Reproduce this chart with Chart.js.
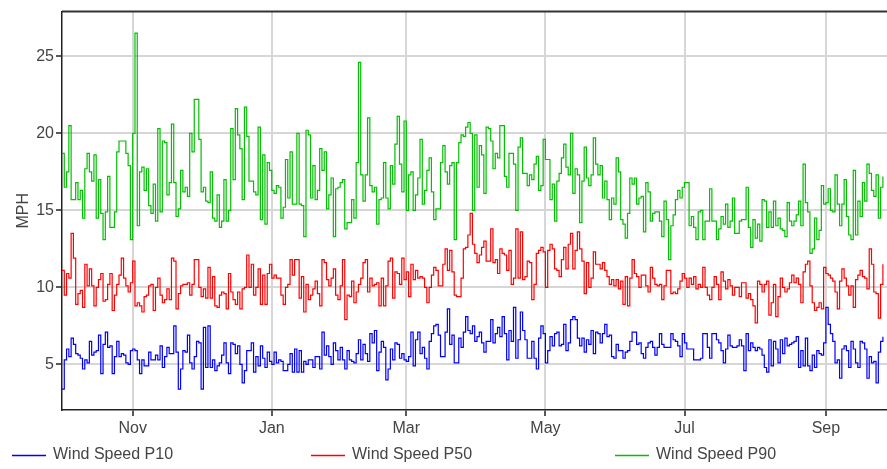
<!DOCTYPE html>
<html>
<head>
<meta charset="utf-8">
<script src="https://cdn.jsdelivr.net/npm/chart.js@4.4.1/dist/chart.umd.min.js"></script>
<style>
  html, body { margin: 0; padding: 0; background: #fff; }
</style>
</head>
<body>
<canvas id="grafico-vento" width="887" height="469"></canvas>
<script>
// one value per day, day 0 = 1 Oct
const monthTicks = [31, 92, 151, 212, 273, 335];
const monthLabels = ['Nov', 'Jan', 'Mar', 'May', 'Jul', 'Sep'];
const yTicks = [5, 10, 15, 20, 25];
const seriesNames = ['Wind Speed P10', 'Wind Speed P50', 'Wind Speed P90'];
const seriesColors = ['#0000ff', '#ff0000', '#00c000'];

const p10 = [
  3.4, 5.3, 6.0, 5.5, 6.7, 6.3, 5.7, 5.6, 5.4, 4.7,
  5.3, 5.1, 6.5, 5.6, 5.8, 5.9, 6.9, 4.4, 6.3, 7.1,
  6.1, 6.2, 4.4, 5.5, 6.5, 5.5, 5.7, 5.6, 5.1, 5.0,
  5.9, 6.0, 5.9, 5.3, 4.4, 5.3, 4.9, 4.9, 5.8, 5.3,
  5.3, 5.6, 5.3, 6.2, 4.8, 5.5, 6.1, 5.7, 5.7, 7.5,
  5.8, 3.4, 4.7, 5.9, 5.8, 6.9, 5.1, 4.7, 5.5, 6.5,
  6.4, 3.4, 7.4, 4.8, 7.5, 4.8, 5.3, 4.6, 4.9, 5.1,
  5.6, 6.4, 5.1, 4.4, 6.4, 6.3, 5.7, 6.2, 5.0, 3.8,
  4.6, 5.9, 5.9, 6.4, 4.5, 5.5, 4.9, 6.2, 5.4, 4.8,
  5.8, 5.2, 5.0, 5.8, 5.1, 5.3, 5.2, 4.6, 4.6, 5.0,
  5.7, 4.5, 6.0, 4.5, 5.9, 4.5, 5.2, 5.0, 5.3, 5.3,
  4.8, 5.5, 5.5, 4.7, 7.1, 5.6, 6.2, 5.5, 5.0, 6.4,
  5.9, 5.3, 6.1, 5.3, 4.7, 5.9, 5.3, 5.2, 5.1, 5.7,
  6.6, 5.3, 6.3, 5.7, 5.2, 7.0, 6.4, 7.2, 4.6, 5.8,
  6.5, 6.1, 4.0, 4.7, 6.0, 5.3, 6.4, 6.3, 5.4, 5.7,
  5.3, 5.2, 5.5, 7.1, 4.9, 6.6, 7.1, 5.7, 6.1, 5.4,
  4.7, 6.5, 7.0, 7.5, 7.6, 6.9, 5.5, 5.5, 7.1, 8.6,
  6.3, 6.9, 5.1, 5.1, 6.7, 6.1, 7.1, 8.1, 7.2, 7.0,
  7.5, 6.5, 6.8, 7.1, 6.4, 5.8, 6.5, 6.5, 7.9, 6.4,
  7.0, 7.4, 6.8, 8.1, 7.0, 5.3, 7.2, 6.5, 8.7, 5.4,
  6.6, 8.4, 7.2, 6.6, 5.4, 5.4, 6.5, 5.4, 4.7, 6.7,
  7.5, 7.0, 5.1, 5.9, 6.8, 6.2, 7.0, 7.1, 6.2, 6.3,
  7.6, 5.9, 6.4, 7.9, 8.1, 7.9, 6.7, 6.2, 6.7, 5.8,
  6.6, 6.3, 7.2, 5.7, 7.1, 7.0, 6.4, 7.0, 7.6, 6.8,
  6.9, 5.5, 5.4, 6.3, 5.9, 5.9, 5.4, 5.8, 5.9, 6.5,
  7.1, 7.1, 6.3, 6.4, 5.7, 5.4, 6.1, 6.4, 6.5, 6.1,
  5.6, 6.1, 7.0, 6.3, 6.1, 6.1, 6.1, 7.0, 6.6, 6.5,
  6.2, 5.5, 7.0, 6.4, 6.0, 6.0, 6.0, 5.3, 5.3, 5.3,
  5.4, 7.0, 7.0, 6.1, 5.4, 7.0, 7.0, 6.6, 6.4, 5.9,
  5.1, 6.0, 6.9, 6.2, 6.1, 6.1, 6.2, 6.6, 6.2, 4.6,
  7.0, 5.9, 6.4, 6.1, 5.9, 6.1, 6.0, 5.6, 4.8, 4.5,
  6.6, 4.9, 6.5, 6.0, 5.1, 6.6, 5.7, 6.7, 6.2, 6.3,
  6.4, 6.5, 6.8, 4.8, 5.9, 4.9, 6.7, 4.9, 4.6, 5.6,
  4.8, 5.9, 5.7, 5.6, 6.4, 8.7, 7.6, 7.0, 6.5, 5.1,
  5.3, 4.1, 6.0, 6.2, 5.9, 4.8, 6.5, 6.0, 5.1, 4.8,
  6.5, 6.4, 6.0, 4.1, 5.5, 5.1, 5.2, 3.8, 5.8, 6.5,
  6.8
];

const p50 = [
  11.1, 9.5, 10.9, 10.6, 13.5, 11.9, 8.9, 9.6, 9.8, 8.7,
  11.5, 10.1, 11.2, 10.1, 8.8, 10.0, 10.5, 10.9, 9.1, 9.2,
  10.2, 10.9, 8.5, 9.5, 10.2, 10.8, 11.9, 10.6, 10.1, 9.7,
  10.3, 11.7, 8.8, 9.0, 8.8, 8.4, 9.4, 9.5, 10.1, 10.2,
  8.5, 10.0, 10.6, 9.5, 9.0, 9.2, 9.9, 9.2, 11.9, 11.7,
  8.6, 9.6, 10.1, 10.2, 10.2, 10.3, 9.5, 10.2, 11.8, 11.8,
  10.0, 9.4, 9.9, 9.3, 11.3, 9.3, 10.7, 8.8, 8.7, 9.5,
  9.7, 9.6, 8.6, 10.9, 9.7, 9.2, 8.9, 9.7, 8.6, 9.9,
  10.0, 12.1, 10.0, 11.5, 9.5, 10.0, 11.2, 8.9, 10.8, 8.9,
  10.9, 11.5, 10.6, 10.8, 10.6, 10.6, 9.5, 8.9, 10.0, 10.2,
  11.8, 10.8, 11.8, 11.8, 9.3, 10.7, 8.4, 10.2, 9.2, 9.5,
  9.9, 10.4, 9.6, 8.8, 11.8, 11.6, 10.5, 10.1, 10.6, 11.2,
  9.5, 9.2, 10.1, 11.8, 7.9, 9.5, 9.4, 10.4, 9.0, 9.7,
  10.2, 10.6, 11.6, 11.8, 9.7, 10.6, 10.1, 10.2, 10.3, 8.8,
  10.6, 8.8, 10.1, 11.7, 11.9, 9.3, 11.0, 10.9, 10.2, 11.9,
  10.5, 11.0, 9.4, 11.5, 10.5, 11.1, 10.6, 10.7, 10.6, 10.0,
  9.0, 10.0, 10.8, 11.3, 11.1, 10.1, 10.1, 11.5, 12.5, 11.1,
  12.4, 11.0, 9.5, 9.4, 9.4, 10.6, 12.5, 12.6, 13.4, 14.8,
  12.8, 12.2, 11.6, 12.1, 12.6, 13.0, 11.7, 11.7, 13.8, 11.6,
  11.8, 10.9, 12.5, 12.2, 12.1, 11.1, 12.4, 10.2, 10.6, 13.8,
  10.6, 13.6, 10.5, 10.7, 11.7, 11.6, 9.2, 10.2, 12.2, 12.4,
  12.6, 12.3, 10.0, 12.4, 12.8, 12.5, 11.2, 11.1, 10.7, 11.8,
  12.6, 11.2, 12.8, 13.5, 11.2, 12.4, 13.6, 12.5, 11.7, 9.6,
  11.6, 10.0, 10.6, 12.3, 11.5, 11.5, 11.2, 11.6, 11.1, 10.7,
  10.2, 10.5, 10.1, 10.5, 9.9, 10.4, 8.9, 10.7, 8.8, 10.6,
  11.8, 10.9, 10.7, 10.0, 10.8, 10.8, 10.1, 9.7, 11.3, 10.6,
  10.2, 10.1, 10.2, 9.2, 10.1, 11.1, 11.1, 9.6, 9.7, 9.6,
  9.9, 10.4, 10.9, 10.6, 10.0, 10.6, 10.2, 10.7, 9.9, 10.2,
  10.0, 11.3, 10.0, 9.5, 9.2, 10.0, 10.7, 10.2, 9.2, 11.0,
  10.4, 9.9, 10.5, 10.1, 9.5, 10.0, 10.0, 9.4, 10.3, 10.3,
  9.3, 9.6, 9.2, 8.8, 7.7, 10.4, 10.2, 9.7, 10.2, 10.4,
  8.2, 9.0, 10.2, 8.1, 9.4, 10.6, 10.0, 9.7, 9.9, 10.3,
  10.8, 10.3, 10.6, 10.2, 9.0, 11.0, 11.5, 11.7, 10.1, 9.0,
  8.5, 8.7, 9.0, 8.6, 11.3, 10.9, 10.8, 10.6, 10.4, 9.7,
  8.6, 10.4, 11.2, 10.6, 10.1, 9.5, 10.1, 8.7, 10.5, 10.8,
  11.1, 10.7, 10.6, 9.9, 12.5, 11.5, 9.7, 9.6, 8.0, 10.2,
  11.5
];

const p90 = [
  18.7, 16.5, 17.5, 20.5, 15.7, 15.7, 16.8, 15.7, 16.3, 14.5,
  17.7, 18.7, 17.5, 16.9, 18.6, 14.5, 17.0, 14.8, 13.1, 14.9,
  17.2, 13.9, 13.9, 14.9, 18.8, 19.5, 19.5, 19.5, 18.7, 17.9,
  13.1, 20.0, 26.5, 14.0, 17.5, 17.8, 16.3, 17.7, 15.3, 14.8,
  16.7, 14.3, 20.3, 14.9, 19.5, 19.4, 16.0, 16.8, 20.6, 16.8,
  14.6, 15.1, 17.6, 16.2, 16.5, 15.9, 20.0, 18.8, 22.2, 22.2,
  19.6, 16.2, 16.5, 15.6, 15.5, 17.5, 14.5, 14.3, 16.0, 13.9,
  14.3, 17.0, 14.3, 15.0, 20.3, 17.0, 21.6, 19.9, 19.0, 15.7,
  21.7, 19.8, 16.9, 16.9, 16.2, 16.0, 20.4, 14.4, 18.6, 14.1,
  18.1, 17.6, 16.3, 16.1, 16.6, 16.5, 14.5, 15.2, 18.3, 15.8,
  18.8, 15.4, 15.4, 20.0, 15.4, 15.3, 13.3, 20.2, 19.9, 15.8,
  17.9, 15.7, 16.3, 19.0, 17.6, 18.8, 15.1, 16.0, 17.1,
  13.3, 16.4, 16.5, 16.8, 17.0, 13.8, 14.2, 14.2, 15.7, 14.5,
  18.1, 24.6, 17.3, 15.6, 17.3, 21.0, 16.6, 16.2, 16.5, 14.1,
  15.7, 15.8, 18.1, 15.8, 15.1, 17.9, 16.7, 19.3, 21.1, 18.0,
  16.2, 20.8, 15.0, 17.3, 17.5, 15.0, 16.0, 17.1, 19.6, 15.4,
  16.3, 17.6, 18.4, 16.2, 14.4, 15.1, 15.1, 18.1, 19.2, 17.5,
  16.7, 17.9, 18.1, 13.1, 18.1, 19.4, 19.9, 19.8, 20.4, 20.7,
  20.0, 15.0, 19.9, 16.5, 19.2, 18.6, 16.1, 20.4, 20.3, 19.5,
  17.7, 18.7, 18.4, 20.5, 20.5, 17.2, 16.5, 18.7, 18.7, 18.0,
  15.0, 19.1, 19.7, 17.4, 17.4, 16.6, 17.3, 17.0, 18.0, 18.5,
  16.3, 16.6, 19.6, 18.3, 18.3, 15.7, 16.7, 14.3, 16.9, 17.4,
  18.4, 19.3, 17.8, 17.3, 20.0, 16.1, 17.7, 17.3, 14.2, 16.9,
  19.1, 17.1, 16.6, 17.3, 19.7, 18.0, 17.3, 17.9, 15.8, 16.9,
  15.7, 14.4, 15.8, 15.4, 18.4, 17.5, 14.4, 14.1, 13.2, 14.8,
  17.1, 16.7, 17.1, 15.4, 15.8, 15.9, 13.6, 16.8, 16.2, 14.3,
  14.8, 14.9, 14.9, 14.3, 13.3, 15.6, 14.4, 11.8, 14.0, 14.7,
  15.7, 16.3, 15.8, 16.5, 16.8, 16.8, 14.0, 14.6, 13.9, 13.1,
  14.9, 15.0, 13.1, 14.3, 14.3, 16.4, 14.3, 14.3, 13.1, 13.8,
  14.6, 14.1, 15.4, 13.9, 14.3, 15.8, 13.5, 13.5, 14.3, 14.4,
  14.4, 16.5, 13.9, 12.6, 14.4, 13.2, 14.1, 13.0, 15.7, 15.6,
  13.9, 14.9, 13.9, 15.6, 14.0, 14.5, 13.8, 13.7, 13.3, 15.5,
  14.3, 14.0, 14.3, 14.7, 15.6, 14.0, 18.0, 15.5, 14.9, 12.2,
  12.5, 14.5, 13.1, 13.7, 16.6, 15.4, 15.5, 16.4, 15.0, 14.9,
  17.3, 15.4, 14.0, 15.4, 17.0, 14.6, 13.4, 13.1, 17.6, 13.4,
  15.6, 14.6, 16.8, 15.6, 18.0, 17.4, 16.3, 15.9, 17.3, 14.5,
  16.5, 17.2
];

const FONTE = '"Liberation Sans", Arial, sans-serif';
Chart.defaults.font.family = FONTE;
Chart.defaults.font.size = 16;
Chart.defaults.color = '#444';

const pontos = arr => arr.map((v, i) => ({ x: i, y: v }));

// legend drawn by hand, spaced like the original, plus the top frame line
const legendaEmbaixo = {
  id: 'legendaEmbaixo',
  afterDraw(chart) {
    const c = chart.ctx;
    const a = chart.chartArea;
    const posX = [12, 311, 615];
    c.save();
    c.strokeStyle = '#333';
    c.lineWidth = 2;
    c.beginPath();
    c.moveTo(a.left, a.top);
    c.lineTo(a.right, a.top);
    c.stroke();
    c.font = '16px ' + FONTE;
    c.textBaseline = 'middle';
    chart.data.datasets.forEach((ds, i) => {
      c.strokeStyle = seriesColors[i];
      c.lineWidth = 1.3;
      c.beginPath();
      c.moveTo(posX[i], 455.5);
      c.lineTo(posX[i] + 34, 455.5);
      c.stroke();
      c.fillStyle = '#444';
      c.fillText(ds.label, posX[i] + 41, 455);
    });
    c.restore();
  }
};

const ctx = document.getElementById('grafico-vento').getContext('2d');
const series = [p10, p50, p90];
const data = {
  datasets: series.map((arr, i) => ({
    label: seriesNames[i],
    data: pontos(arr),
    borderColor: seriesColors[i],
    borderWidth: 1.2,
    pointRadius: 0,
    stepped: 'before'
  }))
};
const options = {
  responsive: false,
  animation: false,
  layout: {
    padding: { top: 8, right: 0, bottom: 0, left: 0 }
  },
  plugins: {
    legend: { display: false },
    tooltip: { enabled: false }
  },
  scales: {
    x: {
      type: 'linear',
      min: 0,
      max: 361.8,
      afterFit: s => { s.height = 59; },
      afterBuildTicks: s => { s.ticks = monthTicks.map(v => ({ value: v })); },
      ticks: {
        padding: 3,
        maxRotation: 0,
        autoSkip: false,
        callback: v => monthLabels[monthTicks.indexOf(v)]
      },
      grid: {
        color: '#d6d6d6',
        lineWidth: 2,
        tickColor: '#222',
        tickWidth: 1.5,
        tickLength: 6
      },
      border: { color: '#222', width: 1.5 }
    },
    y: {
      min: 2.04,
      max: 27.9,
      afterFit: s => { s.width = 62; },
      afterBuildTicks: s => { s.ticks = yTicks.map(v => ({ value: v })); },
      ticks: { padding: 2 },
      title: {
        display: true,
        text: 'MPH',
        padding: { top: 14, bottom: 0 }
      },
      grid: {
        color: '#d6d6d6',
        lineWidth: 2,
        tickColor: '#222',
        tickWidth: 1.5,
        tickLength: 6
      },
      border: { color: '#222', width: 1.5 }
    }
  }
};
new Chart(ctx, {
  type: 'line',
  data: data,
  options: options,
  plugins: [legendaEmbaixo]
});
</script>
</body>
</html>
